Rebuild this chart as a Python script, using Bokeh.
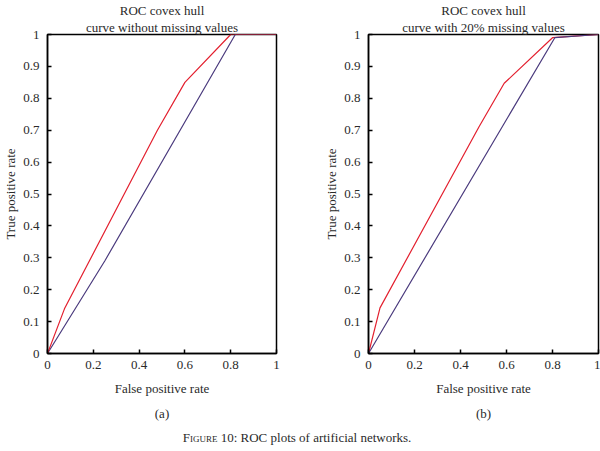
from bokeh.plotting import figure
from bokeh.models import Range1d, FixedTicker, Title, Div
from bokeh.layouts import column, row
from bokeh.embed import file_html
from bokeh.resources import INLINE

# ---- data ----
red_a_x = [0, 0.074, 0.48, 0.60, 0.80, 1.0]
red_a_y = [0, 0.14, 0.70, 0.85, 1.0, 1.0]
blue_a_x = [0, 0.25, 0.82, 1.0]
blue_a_y = [0, 0.29, 1.0, 1.0]

red_b_x = [0, 0.05, 0.48, 0.59, 0.80, 1.0]
red_b_y = [0, 0.143, 0.71, 0.847, 0.99, 1.0]
blue_b_x = [0, 0.81, 1.0]
blue_b_y = [0, 0.99, 1.0]

x_ticks = [0, 0.2, 0.4, 0.6, 0.8, 1]
x_tick_labels = ["0", "0.2", "0.4", "0.6", "0.8", "1"]
y_ticks = [0, 0.1, 0.2, 0.3, 0.4, 0.5, 0.6, 0.7, 0.8, 0.9, 1]
y_tick_labels = ["0", "0.1", "0.2", "0.3", "0.4", "0.5", "0.6", "0.7", "0.8", "0.9", "1"]

title_lines_a = ["ROC covex hull", "curve without missing values"]
title_lines_b = ["ROC covex hull", "curve with 20% missing values"]
sub_a = "(a)"
sub_b = "(b)"

FONT = "Liberation Serif"
RED = "#e3202f"
BLUE = "#4b3b7e"
TXT = "#2a2a2a"
FS = "13px"


def make_plot(fw, mbl, mbr, lines, sub, series):
    p = figure(frame_width=fw, frame_height=319, output_backend="svg", toolbar_location=None,
               x_range=Range1d(0, 1), y_range=Range1d(0, 1),
               min_border_left=mbl, min_border_right=mbr, min_border_top=0,
               min_border_bottom=0)
    p.grid.visible = False
    p.background_fill_color = "white"
    p.border_fill_color = "white"
    p.outline_line_color = "black"
    p.outline_line_width = 1.5
    p.outline_line_alpha = 1.0

    for xs, ys, col in series:
        p.line(xs, ys, line_color=col, line_width=1.2)

    for ax in (p.xaxis[0], p.yaxis[0]):
        ax.axis_line_color = "black"
        ax.axis_line_width = 1.5
        ax.major_tick_in = 4
        ax.major_tick_out = 0
        ax.major_tick_line_color = "black"
        ax.major_tick_line_width = 1.5
        ax.minor_tick_line_color = None
        ax.major_label_text_font = FONT
        ax.major_label_text_font_size = FS
        ax.major_label_text_color = TXT
        ax.axis_label_text_font = FONT
        ax.axis_label_text_font_size = FS
        ax.axis_label_text_font_style = "normal"
        ax.axis_label_text_color = TXT

    p.xaxis.ticker = FixedTicker(ticks=x_ticks)
    p.xaxis.major_label_overrides = dict(zip(x_ticks, x_tick_labels))
    p.yaxis.ticker = FixedTicker(ticks=y_ticks)
    p.yaxis.major_label_overrides = dict(zip(y_ticks, y_tick_labels))
    p.xaxis.major_label_standoff = 7
    p.yaxis.major_label_standoff = 8
    p.xaxis.axis_label = "False positive rate"
    p.yaxis.axis_label = "True positive rate"
    p.xaxis.axis_label_standoff = 9
    p.yaxis.axis_label_standoff = 2

    # titles (second line added first so the first line ends on top)
    for t in reversed(lines):
        p.add_layout(Title(text=t, align="center", text_font=FONT, text_font_size=FS,
                           text_font_style="normal", text_color=TXT, standoff=0,
                           offset=0), "above")
    p.add_layout(Title(text=sub, align="center", text_font=FONT, text_font_size=FS,
                       text_font_style="normal", text_color=TXT, standoff=10), "below")
    return p


pa = make_plot(229, 38, 25, title_lines_a, sub_a,
               [(blue_a_x, blue_a_y, BLUE), (red_a_x, red_a_y, RED)])
pb = make_plot(230, 67, 2, title_lines_b, sub_b,
               [(red_b_x, red_b_y, RED), (blue_b_x, blue_b_y, BLUE)])

caption = Div(text='<span style="font-variant: small-caps;">Figure</span> 10: ROC plots of artificial networks.',
              width=584, height=15,
              styles={"text-align": "center", "font-family": FONT, "font-size": "13px",
                      "color": TXT, "line-height": "15px"})

layout = column(row(pa, pb), caption, spacing=0)

open("out.html", "w").write(file_html(layout, INLINE))
